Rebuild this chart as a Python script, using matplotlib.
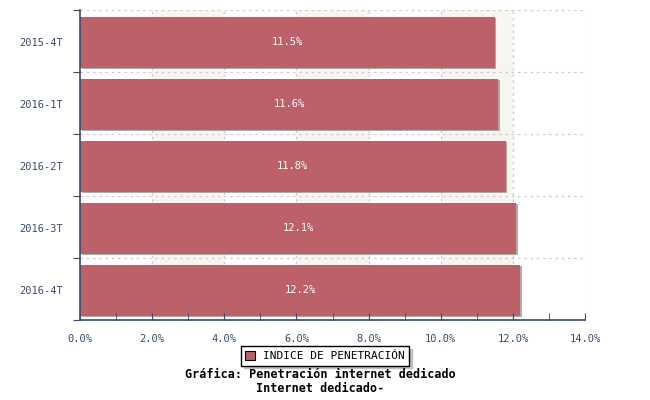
import matplotlib.pyplot as plt
import matplotlib.patheffects as pe
from matplotlib.patches import Rectangle

categories = ["2015-4T", "2016-1T", "2016-2T", "2016-3T", "2016-4T"]
values = [11.5, 11.6, 11.8, 12.1, 12.2]
labels = ["11.5%", "11.6%", "11.8%", "12.1%", "12.2%"]
series_name = "INDICE DE PENETRACIÓN"
title_lines = ["Gráfica: Penetración internet dedicado", "Internet dedicado-"]

bar_color = "#bc616a"
axis_color = "#3b4a6b"
mono = ["DejaVu Sans Mono"]

fig = plt.figure(figsize=(6.5, 4), dpi=100)
ax = fig.add_axes([80 / 650, 80 / 400, 505 / 650, 310 / 400])

n = len(categories)
ax.set_xlim(0, 14)
ax.set_ylim(n, 0)
ax.set_axisbelow(False)

# bandas verticales alternas
for x0 in [2, 6, 10]:
    ax.axvspan(x0, x0 + 2, color="#f6f5ef", zorder=0, lw=0)

# rejilla
for x in range(2, 15, 2):
    ax.axvline(x, color="#cccccc", ls=(0, (2, 3)), lw=0.9, zorder=1)
for y in range(0, n):
    ax.axhline(y, color="#cccccc", ls=(0, (2, 3)), lw=0.9, zorder=1)

ypos = [i + 0.52 for i in range(n)]
bars = ax.barh(ypos, values, height=0.82, color=bar_color, zorder=2,
               path_effects=[pe.SimplePatchShadow(offset=(1.2, -1.2), shadow_rgbFace="#8a7070", alpha=0.6), pe.Normal()])
for y, v, t in zip(ypos, values, labels):
    ax.text(v / 2, y, t, color="white", ha="center", va="center",
            fontsize=7.5, family=mono, zorder=4)

ax.set_yticks(range(0, n + 1))
ax.set_yticklabels([])
ax.set_yticks(ypos, minor=True)
ax.set_yticklabels(categories, minor=True, fontsize=7.5, family=mono, color=axis_color)
ax.tick_params(axis="y", which="minor", length=0, pad=12)
ax.tick_params(axis="y", which="major", length=5, color=axis_color, direction="out")

ax.set_xticks(range(0, 15, 2))
ax.set_xticklabels([f"{x:.1f}%" for x in range(0, 15, 2)], fontsize=7.5, family=mono, color=axis_color)
ax.set_xticks(range(1, 15, 2), minor=True)
ax.tick_params(axis="x", which="both", direction="in", length=5, color=axis_color, pad=10)

for s in ["top", "right"]:
    ax.spines[s].set_visible(False)
for s in ["left", "bottom"]:
    ax.spines[s].set_color(axis_color)
    ax.spines[s].set_linewidth(1.2)

# leyenda
leg = fig.legend([Rectangle((0, 0), 1, 1, fc=bar_color, ec="black", lw=0.8)], [series_name],
                 loc="center", bbox_to_anchor=(325 / 650, 1 - 356 / 400), frameon=True,
                 fancybox=False, shadow={"color": "#c0c0c0", "alpha": 1.0, "ox": 2, "oy": -2},
                 prop={"family": mono, "size": 8},
                 handlelength=0.9, handleheight=0.9, borderpad=0.4, handletextpad=0.7)
leg.get_frame().set_edgecolor("black")
leg.get_frame().set_linewidth(1.0)

fig.text(320 / 650, 1 - 374 / 400, title_lines[0], ha="center", va="center",
         fontsize=8.5, fontweight="bold", family=mono, zorder=10)
fig.text(320 / 650, 1 - 388 / 400, title_lines[1], ha="center", va="center",
         fontsize=8.5, fontweight="bold", family=mono, zorder=10)

fig.savefig("out.png", dpi=100)
